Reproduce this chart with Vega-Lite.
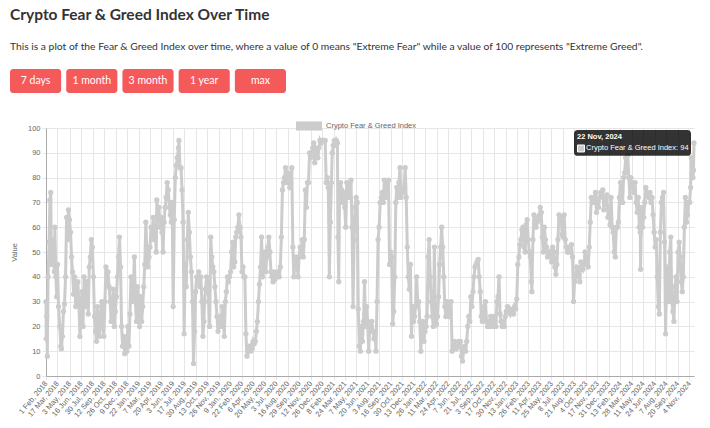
{
"$schema": "https://vega.github.io/schema/vega-lite/v6.json",
"background": "white",
"padding": {"left": 10, "top": 8, "right": 0, "bottom": 0},
"title": {"text": "Crypto Fear & Greed Index Over Time", "subtitle": "This is a plot of the Fear & Greed Index over time, where a value of 0 means \"Extreme Fear\" while a value of 100 represents \"Extreme Greed\".", "anchor": "start", "frame": "bounds", "font": "Lato", "fontSize": 15.5, "fontWeight": "bold", "color": "#333333", "subtitleFont": "Lato", "subtitleFontSize": 10.3, "subtitleColor": "#333333", "subtitlePadding": 18, "offset": 17},
"datasets": {
"buttons": [{"label": "7 days"}, {"label": "1 month"}, {"label": "3 month"}, {"label": "1 year"}, {"label": "max"}],
"fng": [
{"date":"2018-02-01","value":30},{"date":"2018-02-02","value":15},{"date":"2018-02-04","value":24},{"date":"2018-02-06","value":8},{"date":"2018-02-09","value":40},{"date":"2018-02-13","value":54},{"date":"2018-02-16","value":71},{"date":"2018-02-19","value":74},{"date":"2018-02-22","value":45},{"date":"2018-02-26","value":55},
{"date":"2018-03-01","value":50},{"date":"2018-03-05","value":42},{"date":"2018-03-07","value":60},{"date":"2018-03-11","value":40},{"date":"2018-03-14","value":32},{"date":"2018-03-17","value":45},{"date":"2018-03-21","value":28},{"date":"2018-03-26","value":20},{"date":"2018-03-30","value":12},
{"date":"2018-04-01","value":11},{"date":"2018-04-05","value":16},{"date":"2018-04-09","value":26},{"date":"2018-04-13","value":29},{"date":"2018-04-17","value":40},{"date":"2018-04-21","value":64},{"date":"2018-04-25","value":55},{"date":"2018-04-28","value":67},
{"date":"2018-05-02","value":63},{"date":"2018-05-06","value":58},{"date":"2018-05-10","value":48},{"date":"2018-05-14","value":42},{"date":"2018-05-18","value":33},{"date":"2018-05-22","value":40},{"date":"2018-05-26","value":28},{"date":"2018-05-30","value":34},
{"date":"2018-06-03","value":38},{"date":"2018-06-07","value":30},{"date":"2018-06-11","value":16},{"date":"2018-06-15","value":26},{"date":"2018-06-19","value":34},{"date":"2018-06-23","value":20},{"date":"2018-06-27","value":40},
{"date":"2018-07-01","value":28},{"date":"2018-07-05","value":33},{"date":"2018-07-09","value":38},{"date":"2018-07-13","value":25},{"date":"2018-07-17","value":44},{"date":"2018-07-21","value":48},{"date":"2018-07-25","value":55},{"date":"2018-07-29","value":52},
{"date":"2018-08-02","value":40},{"date":"2018-08-06","value":24},{"date":"2018-08-10","value":18},{"date":"2018-08-14","value":14},{"date":"2018-08-18","value":28},{"date":"2018-08-22","value":20},{"date":"2018-08-26","value":16},{"date":"2018-08-30","value":25},
{"date":"2018-09-03","value":30},{"date":"2018-09-07","value":20},{"date":"2018-09-11","value":16},{"date":"2018-09-15","value":30},{"date":"2018-09-19","value":44},{"date":"2018-09-23","value":37},{"date":"2018-09-27","value":42},
{"date":"2018-10-01","value":36},{"date":"2018-10-05","value":30},{"date":"2018-10-09","value":22},{"date":"2018-10-13","value":28},{"date":"2018-10-17","value":35},{"date":"2018-10-21","value":20},{"date":"2018-10-25","value":26},{"date":"2018-10-29","value":32},
{"date":"2018-11-02","value":40},{"date":"2018-11-06","value":48},{"date":"2018-11-10","value":56},{"date":"2018-11-14","value":44},{"date":"2018-11-18","value":20},{"date":"2018-11-22","value":12},{"date":"2018-11-26","value":16},{"date":"2018-11-30","value":9},
{"date":"2018-12-04","value":14},{"date":"2018-12-08","value":10},{"date":"2018-12-12","value":20},{"date":"2018-12-16","value":12},{"date":"2018-12-20","value":25},{"date":"2018-12-24","value":40},{"date":"2018-12-28","value":30},
{"date":"2019-01-01","value":32},{"date":"2019-01-06","value":48},{"date":"2019-01-10","value":30},{"date":"2019-01-14","value":22},{"date":"2019-01-18","value":36},{"date":"2019-01-22","value":28},{"date":"2019-01-26","value":20},{"date":"2019-01-30","value":32},
{"date":"2019-02-03","value":22},{"date":"2019-02-07","value":28},{"date":"2019-02-11","value":36},{"date":"2019-02-15","value":45},{"date":"2019-02-19","value":62},{"date":"2019-02-23","value":50},{"date":"2019-02-27","value":44},
{"date":"2019-03-03","value":48},{"date":"2019-03-07","value":52},{"date":"2019-03-11","value":60},{"date":"2019-03-15","value":55},{"date":"2019-03-19","value":64},{"date":"2019-03-23","value":55},{"date":"2019-03-27","value":58},{"date":"2019-03-31","value":50},
{"date":"2019-04-02","value":71},{"date":"2019-04-06","value":65},{"date":"2019-04-10","value":68},{"date":"2019-04-14","value":60},{"date":"2019-04-18","value":64},{"date":"2019-04-22","value":58},{"date":"2019-04-26","value":50},{"date":"2019-04-30","value":62},
{"date":"2019-05-04","value":68},{"date":"2019-05-08","value":72},{"date":"2019-05-12","value":78},{"date":"2019-05-16","value":75},{"date":"2019-05-20","value":68},{"date":"2019-05-24","value":65},{"date":"2019-05-28","value":62},{"date":"2019-05-31","value":70},
{"date":"2019-06-04","value":28},{"date":"2019-06-08","value":63},{"date":"2019-06-12","value":80},{"date":"2019-06-16","value":85},{"date":"2019-06-20","value":88},{"date":"2019-06-24","value":92},{"date":"2019-06-26","value":95},{"date":"2019-06-30","value":84},
{"date":"2019-07-04","value":84},{"date":"2019-07-08","value":75},{"date":"2019-07-12","value":62},{"date":"2019-07-16","value":17},{"date":"2019-07-20","value":45},{"date":"2019-07-24","value":36},{"date":"2019-07-28","value":55},
{"date":"2019-08-01","value":66},{"date":"2019-08-05","value":58},{"date":"2019-08-09","value":48},{"date":"2019-08-13","value":42},{"date":"2019-08-17","value":30},{"date":"2019-08-21","value":5},{"date":"2019-08-25","value":18},{"date":"2019-08-29","value":34},
{"date":"2019-09-02","value":40},{"date":"2019-09-06","value":38},{"date":"2019-09-10","value":42},{"date":"2019-09-14","value":36},{"date":"2019-09-18","value":40},{"date":"2019-09-22","value":30},{"date":"2019-09-26","value":16},{"date":"2019-09-30","value":22},
{"date":"2019-10-02","value":30},{"date":"2019-10-06","value":35},{"date":"2019-10-10","value":40},{"date":"2019-10-14","value":38},{"date":"2019-10-18","value":30},{"date":"2019-10-22","value":20},{"date":"2019-10-26","value":56},{"date":"2019-10-30","value":48},
{"date":"2019-11-03","value":44},{"date":"2019-11-07","value":42},{"date":"2019-11-11","value":36},{"date":"2019-11-15","value":30},{"date":"2019-11-19","value":24},{"date":"2019-11-23","value":18},{"date":"2019-11-27","value":20},
{"date":"2019-12-01","value":24},{"date":"2019-12-05","value":20},{"date":"2019-12-09","value":28},{"date":"2019-12-13","value":24},{"date":"2019-12-17","value":16},{"date":"2019-12-21","value":30},{"date":"2019-12-25","value":34},{"date":"2019-12-29","value":40},
{"date":"2020-01-02","value":38},{"date":"2020-01-06","value":40},{"date":"2020-01-10","value":42},{"date":"2020-01-14","value":50},{"date":"2020-01-18","value":54},{"date":"2020-01-22","value":44},{"date":"2020-01-26","value":46},{"date":"2020-01-30","value":56},
{"date":"2020-02-03","value":58},{"date":"2020-02-07","value":60},{"date":"2020-02-11","value":65},{"date":"2020-02-15","value":60},{"date":"2020-02-19","value":56},{"date":"2020-02-23","value":42},{"date":"2020-02-27","value":44},
{"date":"2020-03-01","value":40},{"date":"2020-03-05","value":40},{"date":"2020-03-09","value":17},{"date":"2020-03-13","value":8},{"date":"2020-03-17","value":10},{"date":"2020-03-21","value":12},{"date":"2020-03-25","value":10},{"date":"2020-03-29","value":12},
{"date":"2020-04-02","value":11},{"date":"2020-04-06","value":14},{"date":"2020-04-10","value":13},{"date":"2020-04-14","value":14},{"date":"2020-04-18","value":18},{"date":"2020-04-22","value":22},{"date":"2020-04-26","value":30},{"date":"2020-04-30","value":37},
{"date":"2020-05-04","value":44},{"date":"2020-05-08","value":56},{"date":"2020-05-12","value":40},{"date":"2020-05-16","value":45},{"date":"2020-05-20","value":50},{"date":"2020-05-24","value":42},{"date":"2020-05-28","value":48},
{"date":"2020-06-01","value":52},{"date":"2020-06-05","value":56},{"date":"2020-06-09","value":50},{"date":"2020-06-13","value":42},{"date":"2020-06-17","value":40},{"date":"2020-06-21","value":38},{"date":"2020-06-25","value":42},{"date":"2020-06-29","value":39},
{"date":"2020-07-03","value":40},{"date":"2020-07-07","value":41},{"date":"2020-07-11","value":42},{"date":"2020-07-15","value":40},{"date":"2020-07-19","value":44},{"date":"2020-07-23","value":56},{"date":"2020-07-27","value":75},{"date":"2020-07-31","value":78},
{"date":"2020-08-04","value":80},{"date":"2020-08-08","value":84},{"date":"2020-08-12","value":78},{"date":"2020-08-16","value":82},{"date":"2020-08-20","value":80},{"date":"2020-08-24","value":76},{"date":"2020-08-28","value":78},
{"date":"2020-09-01","value":84},{"date":"2020-09-05","value":52},{"date":"2020-09-09","value":40},{"date":"2020-09-13","value":45},{"date":"2020-09-17","value":48},{"date":"2020-09-21","value":45},{"date":"2020-09-25","value":40},{"date":"2020-09-29","value":48},
{"date":"2020-10-03","value":52},{"date":"2020-10-07","value":50},{"date":"2020-10-11","value":55},{"date":"2020-10-15","value":48},{"date":"2020-10-19","value":55},{"date":"2020-10-23","value":75},{"date":"2020-10-27","value":68},{"date":"2020-10-31","value":78},
{"date":"2020-11-04","value":78},{"date":"2020-11-08","value":90},{"date":"2020-11-12","value":88},{"date":"2020-11-16","value":90},{"date":"2020-11-20","value":92},{"date":"2020-11-24","value":94},{"date":"2020-11-28","value":86},
{"date":"2020-12-02","value":92},{"date":"2020-12-06","value":90},{"date":"2020-12-10","value":88},{"date":"2020-12-14","value":92},{"date":"2020-12-18","value":95},{"date":"2020-12-22","value":94},{"date":"2020-12-26","value":95},{"date":"2020-12-30","value":95},
{"date":"2021-01-03","value":95},{"date":"2021-01-07","value":95},{"date":"2021-01-11","value":78},{"date":"2021-01-15","value":80},{"date":"2021-01-19","value":76},{"date":"2021-01-23","value":40},{"date":"2021-01-27","value":62},{"date":"2021-01-31","value":78},
{"date":"2021-02-03","value":90},{"date":"2021-02-07","value":93},{"date":"2021-02-11","value":95},{"date":"2021-02-15","value":93},{"date":"2021-02-19","value":95},{"date":"2021-02-23","value":94},{"date":"2021-02-25","value":56},{"date":"2021-02-28","value":38},
{"date":"2021-03-03","value":72},{"date":"2021-03-07","value":78},{"date":"2021-03-11","value":75},{"date":"2021-03-15","value":70},{"date":"2021-03-19","value":74},{"date":"2021-03-23","value":68},{"date":"2021-03-27","value":60},{"date":"2021-03-31","value":78},
{"date":"2021-04-04","value":75},{"date":"2021-04-08","value":72},{"date":"2021-04-12","value":78},{"date":"2021-04-16","value":79},{"date":"2021-04-20","value":60},{"date":"2021-04-24","value":28},{"date":"2021-04-28","value":55},
{"date":"2021-05-02","value":68},{"date":"2021-05-06","value":72},{"date":"2021-05-10","value":70},{"date":"2021-05-14","value":27},{"date":"2021-05-18","value":12},{"date":"2021-05-22","value":10},{"date":"2021-05-26","value":20},{"date":"2021-05-30","value":14},
{"date":"2021-06-03","value":22},{"date":"2021-06-07","value":38},{"date":"2021-06-11","value":20},{"date":"2021-06-15","value":28},{"date":"2021-06-19","value":22},{"date":"2021-06-23","value":10},{"date":"2021-06-27","value":20},
{"date":"2021-07-01","value":20},{"date":"2021-07-05","value":22},{"date":"2021-07-09","value":18},{"date":"2021-07-13","value":15},{"date":"2021-07-17","value":18},{"date":"2021-07-21","value":10},{"date":"2021-07-25","value":30},{"date":"2021-07-29","value":55},
{"date":"2021-08-02","value":60},{"date":"2021-08-06","value":70},{"date":"2021-08-10","value":72},{"date":"2021-08-14","value":74},{"date":"2021-08-18","value":70},{"date":"2021-08-22","value":79},{"date":"2021-08-26","value":72},{"date":"2021-08-30","value":74},
{"date":"2021-09-03","value":78},{"date":"2021-09-07","value":79},{"date":"2021-09-11","value":45},{"date":"2021-09-15","value":50},{"date":"2021-09-19","value":48},{"date":"2021-09-23","value":21},{"date":"2021-09-27","value":26},
{"date":"2021-10-01","value":40},{"date":"2021-10-05","value":70},{"date":"2021-10-09","value":76},{"date":"2021-10-13","value":72},{"date":"2021-10-17","value":78},{"date":"2021-10-21","value":84},{"date":"2021-10-25","value":72},{"date":"2021-10-29","value":74},
{"date":"2021-11-02","value":74},{"date":"2021-11-06","value":76},{"date":"2021-11-10","value":84},{"date":"2021-11-14","value":72},{"date":"2021-11-18","value":52},{"date":"2021-11-22","value":40},{"date":"2021-11-26","value":35},{"date":"2021-11-30","value":45},
{"date":"2021-12-04","value":16},{"date":"2021-12-08","value":28},{"date":"2021-12-12","value":22},{"date":"2021-12-16","value":24},{"date":"2021-12-20","value":28},{"date":"2021-12-24","value":40},{"date":"2021-12-28","value":30},
{"date":"2022-01-01","value":30},{"date":"2022-01-05","value":22},{"date":"2022-01-09","value":10},{"date":"2022-01-13","value":20},{"date":"2022-01-17","value":22},{"date":"2022-01-21","value":14},{"date":"2022-01-25","value":18},{"date":"2022-01-29","value":20},
{"date":"2022-02-02","value":24},{"date":"2022-02-06","value":48},{"date":"2022-02-10","value":55},{"date":"2022-02-14","value":40},{"date":"2022-02-18","value":30},{"date":"2022-02-22","value":24},{"date":"2022-02-26","value":20},
{"date":"2022-03-02","value":52},{"date":"2022-03-06","value":22},{"date":"2022-03-10","value":21},{"date":"2022-03-14","value":24},{"date":"2022-03-18","value":32},{"date":"2022-03-22","value":45},{"date":"2022-03-26","value":52},{"date":"2022-03-30","value":60},
{"date":"2022-04-03","value":52},{"date":"2022-04-07","value":40},{"date":"2022-04-11","value":28},{"date":"2022-04-15","value":24},{"date":"2022-04-19","value":30},{"date":"2022-04-23","value":28},{"date":"2022-04-27","value":24},
{"date":"2022-05-01","value":26},{"date":"2022-05-05","value":30},{"date":"2022-05-09","value":10},{"date":"2022-05-13","value":12},{"date":"2022-05-17","value":14},{"date":"2022-05-21","value":12},{"date":"2022-05-25","value":11},{"date":"2022-05-29","value":12},
{"date":"2022-06-02","value":14},{"date":"2022-06-06","value":12},{"date":"2022-06-10","value":14},{"date":"2022-06-14","value":8},{"date":"2022-06-18","value":6},{"date":"2022-06-22","value":10},{"date":"2022-06-26","value":12},{"date":"2022-06-30","value":10},
{"date":"2022-07-04","value":14},{"date":"2022-07-08","value":20},{"date":"2022-07-12","value":24},{"date":"2022-07-16","value":22},{"date":"2022-07-20","value":32},{"date":"2022-07-24","value":28},{"date":"2022-07-28","value":34},
{"date":"2022-08-01","value":40},{"date":"2022-08-05","value":44},{"date":"2022-08-09","value":45},{"date":"2022-08-13","value":46},{"date":"2022-08-17","value":47},{"date":"2022-08-21","value":40},{"date":"2022-08-25","value":34},{"date":"2022-08-29","value":24},
{"date":"2022-09-02","value":22},{"date":"2022-09-06","value":24},{"date":"2022-09-10","value":28},{"date":"2022-09-14","value":30},{"date":"2022-09-18","value":22},{"date":"2022-09-22","value":20},{"date":"2022-09-26","value":22},{"date":"2022-09-30","value":20},
{"date":"2022-10-04","value":24},{"date":"2022-10-08","value":22},{"date":"2022-10-12","value":20},{"date":"2022-10-16","value":24},{"date":"2022-10-20","value":22},{"date":"2022-10-24","value":20},{"date":"2022-10-28","value":30},
{"date":"2022-11-01","value":32},{"date":"2022-11-05","value":40},{"date":"2022-11-09","value":25},{"date":"2022-11-13","value":22},{"date":"2022-11-17","value":20},{"date":"2022-11-21","value":22},{"date":"2022-11-25","value":20},{"date":"2022-11-29","value":24},
{"date":"2022-12-03","value":26},{"date":"2022-12-07","value":28},{"date":"2022-12-11","value":26},{"date":"2022-12-15","value":27},{"date":"2022-12-19","value":25},{"date":"2022-12-23","value":26},{"date":"2022-12-27","value":27},{"date":"2022-12-31","value":25},
{"date":"2023-01-04","value":28},{"date":"2023-01-08","value":27},{"date":"2023-01-12","value":31},{"date":"2023-01-16","value":45},{"date":"2023-01-20","value":48},{"date":"2023-01-24","value":53},{"date":"2023-01-28","value":55},
{"date":"2023-02-01","value":59},{"date":"2023-02-05","value":60},{"date":"2023-02-09","value":52},{"date":"2023-02-13","value":50},{"date":"2023-02-17","value":61},{"date":"2023-02-21","value":63},{"date":"2023-02-25","value":55},
{"date":"2023-03-01","value":50},{"date":"2023-03-05","value":48},{"date":"2023-03-09","value":38},{"date":"2023-03-11","value":34},{"date":"2023-03-15","value":55},{"date":"2023-03-19","value":65},{"date":"2023-03-23","value":62},{"date":"2023-03-27","value":60},{"date":"2023-03-31","value":62},
{"date":"2023-04-04","value":64},{"date":"2023-04-08","value":63},{"date":"2023-04-12","value":68},{"date":"2023-04-16","value":66},{"date":"2023-04-20","value":56},{"date":"2023-04-24","value":50},{"date":"2023-04-28","value":60},
{"date":"2023-05-02","value":55},{"date":"2023-05-06","value":52},{"date":"2023-05-10","value":48},{"date":"2023-05-14","value":49},{"date":"2023-05-18","value":50},{"date":"2023-05-22","value":48},{"date":"2023-05-26","value":46},{"date":"2023-05-30","value":52},
{"date":"2023-06-03","value":50},{"date":"2023-06-07","value":44},{"date":"2023-06-11","value":41},{"date":"2023-06-15","value":45},{"date":"2023-06-19","value":55},{"date":"2023-06-23","value":65},{"date":"2023-06-27","value":63},
{"date":"2023-07-01","value":64},{"date":"2023-07-05","value":57},{"date":"2023-07-09","value":56},{"date":"2023-07-13","value":65},{"date":"2023-07-17","value":55},{"date":"2023-07-21","value":52},{"date":"2023-07-25","value":50},{"date":"2023-07-29","value":50},
{"date":"2023-08-02","value":52},{"date":"2023-08-06","value":50},{"date":"2023-08-10","value":53},{"date":"2023-08-14","value":48},{"date":"2023-08-18","value":30},{"date":"2023-08-22","value":38},{"date":"2023-08-26","value":40},{"date":"2023-08-30","value":44},
{"date":"2023-09-03","value":40},{"date":"2023-09-07","value":43},{"date":"2023-09-11","value":38},{"date":"2023-09-15","value":46},{"date":"2023-09-19","value":44},{"date":"2023-09-23","value":43},{"date":"2023-09-27","value":45},
{"date":"2023-10-01","value":50},{"date":"2023-10-05","value":48},{"date":"2023-10-09","value":46},{"date":"2023-10-13","value":44},{"date":"2023-10-17","value":52},{"date":"2023-10-21","value":62},{"date":"2023-10-25","value":72},{"date":"2023-10-29","value":70},
{"date":"2023-11-02","value":70},{"date":"2023-11-06","value":72},{"date":"2023-11-10","value":74},{"date":"2023-11-14","value":66},{"date":"2023-11-18","value":70},{"date":"2023-11-22","value":68},{"date":"2023-11-26","value":72},{"date":"2023-11-30","value":74},
{"date":"2023-12-04","value":74},{"date":"2023-12-08","value":75},{"date":"2023-12-12","value":67},{"date":"2023-12-16","value":70},{"date":"2023-12-20","value":72},{"date":"2023-12-24","value":73},{"date":"2023-12-28","value":64},
{"date":"2024-01-01","value":68},{"date":"2024-01-05","value":61},{"date":"2024-01-09","value":72},{"date":"2024-01-13","value":60},{"date":"2024-01-17","value":58},{"date":"2024-01-21","value":50},{"date":"2024-01-25","value":48},{"date":"2024-01-29","value":60},
{"date":"2024-02-02","value":60},{"date":"2024-02-06","value":62},{"date":"2024-02-10","value":72},{"date":"2024-02-14","value":78},{"date":"2024-02-18","value":75},{"date":"2024-02-22","value":70},{"date":"2024-02-26","value":80},
{"date":"2024-03-01","value":82},{"date":"2024-03-05","value":88},{"date":"2024-03-09","value":82},{"date":"2024-03-13","value":89},{"date":"2024-03-17","value":80},{"date":"2024-03-21","value":72},{"date":"2024-03-25","value":80},{"date":"2024-03-29","value":78},
{"date":"2024-04-02","value":76},{"date":"2024-04-06","value":74},{"date":"2024-04-10","value":78},{"date":"2024-04-14","value":70},{"date":"2024-04-18","value":66},{"date":"2024-04-22","value":72},{"date":"2024-04-26","value":60},{"date":"2024-04-30","value":58},
{"date":"2024-05-01","value":43},{"date":"2024-05-05","value":68},{"date":"2024-05-09","value":60},{"date":"2024-05-13","value":64},{"date":"2024-05-17","value":70},{"date":"2024-05-21","value":76},{"date":"2024-05-25","value":74},{"date":"2024-05-29","value":73},
{"date":"2024-06-02","value":72},{"date":"2024-06-06","value":74},{"date":"2024-06-10","value":70},{"date":"2024-06-14","value":72},{"date":"2024-06-18","value":65},{"date":"2024-06-22","value":58},{"date":"2024-06-26","value":52},{"date":"2024-06-30","value":55},
{"date":"2024-07-04","value":40},{"date":"2024-07-08","value":28},{"date":"2024-07-12","value":25},{"date":"2024-07-16","value":58},{"date":"2024-07-20","value":70},{"date":"2024-07-24","value":72},{"date":"2024-07-28","value":74},
{"date":"2024-08-01","value":54},{"date":"2024-08-05","value":17},{"date":"2024-08-09","value":40},{"date":"2024-08-13","value":44},{"date":"2024-08-17","value":30},{"date":"2024-08-21","value":50},{"date":"2024-08-25","value":56},{"date":"2024-08-29","value":30},
{"date":"2024-09-02","value":26},{"date":"2024-09-06","value":22},{"date":"2024-09-10","value":36},{"date":"2024-09-14","value":40},{"date":"2024-09-18","value":30},{"date":"2024-09-22","value":50},{"date":"2024-09-26","value":54},{"date":"2024-09-30","value":48},
{"date":"2024-10-04","value":38},{"date":"2024-10-08","value":34},{"date":"2024-10-12","value":40},{"date":"2024-10-16","value":60},{"date":"2024-10-20","value":72},{"date":"2024-10-24","value":62},{"date":"2024-10-28","value":65},
{"date":"2024-11-01","value":70},{"date":"2024-11-05","value":70},{"date":"2024-11-09","value":76},{"date":"2024-11-12","value":88},{"date":"2024-11-15","value":82},{"date":"2024-11-18","value":80},{"date":"2024-11-20","value":83},{"date":"2024-11-22","value":94}
]
},
"concat": [
{
"width": 276, "height": 24,
"data": {"name": "buttons"},
"encoding": {"x": {"field": "label", "type": "nominal", "sort": null, "axis": null, "scale": {"range": [-36, 240], "paddingInner": 0.09, "paddingOuter": 0}}},
"layer": [
{"mark": {"type": "rect", "fill": "#f55a5a", "cornerRadius": 3}},
{"mark": {"type": "text", "color": "white", "fontSize": 10.5, "font": "Lato"}, "encoding": {"text": {"field": "label"}}}
]
},
{
"width": 648, "height": 248,
"data": {"name": "fng"},
"encoding": {
"x": {"field": "date", "type": "temporal",
"scale": {"type": "utc", "domain": [{"year": 2018, "month": 2, "date": 1, "utc": true}, {"year": 2024, "month": 11, "date": 22, "utc": true}], "nice": false},
"axis": {"title": null, "format": "%-d %b, %Y", "labelAngle": -50, "labelFontSize": 7.5, "labelColor": "#666666", "labelFont": "Liberation Sans", "labelOverlap": false, "labelPadding": 2, "labelBound": false, "labelFlush": false, "tickSize": 4, "tickColor": "#e6e6e6", "grid": true, "gridColor": "#e6e6e6", "domainColor": "#aaaaaa",
"values": [
{"year":2018,"month":2,"date":1,"utc":true},{"year":2018,"month":3,"date":17,"utc":true},{"year":2018,"month":5,"date":3,"utc":true},{"year":2018,"month":6,"date":16,"utc":true},{"year":2018,"month":7,"date":30,"utc":true},{"year":2018,"month":9,"date":12,"utc":true},{"year":2018,"month":10,"date":26,"utc":true},{"year":2018,"month":12,"date":9,"utc":true},
{"year":2019,"month":1,"date":22,"utc":true},{"year":2019,"month":3,"date":7,"utc":true},{"year":2019,"month":4,"date":20,"utc":true},{"year":2019,"month":6,"date":3,"utc":true},{"year":2019,"month":7,"date":17,"utc":true},{"year":2019,"month":8,"date":30,"utc":true},{"year":2019,"month":10,"date":13,"utc":true},{"year":2019,"month":11,"date":26,"utc":true},
{"year":2020,"month":1,"date":9,"utc":true},{"year":2020,"month":2,"date":22,"utc":true},{"year":2020,"month":4,"date":6,"utc":true},{"year":2020,"month":5,"date":20,"utc":true},{"year":2020,"month":7,"date":3,"utc":true},{"year":2020,"month":8,"date":16,"utc":true},{"year":2020,"month":9,"date":29,"utc":true},{"year":2020,"month":11,"date":12,"utc":true},{"year":2020,"month":12,"date":26,"utc":true},
{"year":2021,"month":2,"date":8,"utc":true},{"year":2021,"month":3,"date":24,"utc":true},{"year":2021,"month":5,"date":7,"utc":true},{"year":2021,"month":6,"date":20,"utc":true},{"year":2021,"month":8,"date":3,"utc":true},{"year":2021,"month":9,"date":16,"utc":true},{"year":2021,"month":10,"date":30,"utc":true},{"year":2021,"month":12,"date":13,"utc":true},
{"year":2022,"month":1,"date":26,"utc":true},{"year":2022,"month":3,"date":11,"utc":true},{"year":2022,"month":4,"date":24,"utc":true},{"year":2022,"month":6,"date":7,"utc":true},{"year":2022,"month":7,"date":21,"utc":true},{"year":2022,"month":9,"date":3,"utc":true},{"year":2022,"month":10,"date":17,"utc":true},{"year":2022,"month":11,"date":30,"utc":true},
{"year":2023,"month":1,"date":13,"utc":true},{"year":2023,"month":2,"date":26,"utc":true},{"year":2023,"month":4,"date":11,"utc":true},{"year":2023,"month":5,"date":25,"utc":true},{"year":2023,"month":7,"date":8,"utc":true},{"year":2023,"month":8,"date":21,"utc":true},{"year":2023,"month":10,"date":4,"utc":true},{"year":2023,"month":11,"date":17,"utc":true},{"year":2023,"month":12,"date":31,"utc":true},
{"year":2024,"month":2,"date":13,"utc":true},{"year":2024,"month":3,"date":28,"utc":true},{"year":2024,"month":5,"date":11,"utc":true},{"year":2024,"month":6,"date":24,"utc":true},{"year":2024,"month":8,"date":7,"utc":true},{"year":2024,"month":9,"date":20,"utc":true},{"year":2024,"month":11,"date":4,"utc":true}
]}},
"y": {"field": "value", "type": "quantitative",
"scale": {"domain": [0, 100], "nice": false},
"axis": {"title": "Value", "values": [0, 10, 20, 30, 40, 50, 60, 70, 80, 90, 100], "labelFontSize": 7.5, "labelColor": "#666666", "labelFont": "Liberation Sans", "labelPadding": 2, "tickSize": 4, "tickColor": "#e6e6e6", "grid": true, "gridColor": "#e6e6e6", "domainColor": "#aaaaaa", "titleFont": "Liberation Sans", "titleFontSize": 7.5, "titleFontWeight": "normal", "titleColor": "#666666", "titlePadding": 9}}
},
"layer": [
{"mark": {"type": "line", "strokeWidth": 3, "point": {"filled": true, "size": 28}},
"encoding": {"color": {"datum": "Crypto Fear & Greed Index", "type": "nominal", "scale": {"range": ["#cccccc"]},
"legend": {"orient": "none", "legendX": 250, "legendY": -15, "direction": "horizontal", "title": null, "padding": 0, "symbolType": "M-1,-0.35H1V0.35H-1Z", "symbolSize": 676, "symbolFillColor": "#cccccc", "symbolStrokeWidth": 0, "labelFontSize": 7.5, "labelColor": "#666666", "labelFont": "Liberation Sans", "labelOffset": 4}}}},
{"transform": [{"filter": {"field": "date", "equal": {"year": 2024, "month": 11, "date": 22, "utc": true}}}],
"mark": {"type": "point", "shape": "M-0.932,-0.222H0.932Q1,-0.222,1,-0.154V0.154Q1,0.222,0.932,0.222H-0.932Q-1,0.222,-1,0.154V-0.154Q-1,-0.222,-0.932,-0.222Z", "size": 13689, "filled": true, "fill": "#000000", "opacity": 0.8, "strokeWidth": 0, "xOffset": -61.5}},
{"transform": [{"filter": {"field": "date", "equal": {"year": 2024, "month": 11, "date": 22, "utc": true}}}, {"calculate": "utcFormat(toDate(datum.date), '%-d %b, %Y')", "as": "tlabel"}],
"mark": {"type": "text", "align": "left", "baseline": "middle", "dx": -117, "dy": -6, "fontWeight": "bold", "fontSize": 7.5, "font": "Liberation Sans", "color": "white"},
"encoding": {"text": {"field": "tlabel"}}},
{"transform": [{"filter": {"field": "date", "equal": {"year": 2024, "month": 11, "date": 22, "utc": true}}}, {"calculate": "'Crypto Fear & Greed Index: ' + datum.value", "as": "blabel"}],
"mark": {"type": "text", "align": "left", "baseline": "middle", "dx": -108, "dy": 5.6, "fontSize": 7.5, "font": "Liberation Sans", "color": "white"},
"encoding": {"text": {"field": "blabel"}}},
{"transform": [{"filter": {"field": "date", "equal": {"year": 2024, "month": 11, "date": 22, "utc": true}}}],
"mark": {"type": "point", "shape": "square", "size": 49, "filled": true, "fill": "#cccccc", "stroke": "white", "strokeWidth": 1, "opacity": 1, "xOffset": -113, "yOffset": 5.6}}
]
}
],
"columns": 1,
"align": "none",
"spacing": 20,
"bounds": "full",
"resolve": {"legend": {"color": "independent"}},
"config": {"view": {"stroke": null}, "font": "Liberation Sans"}
}
